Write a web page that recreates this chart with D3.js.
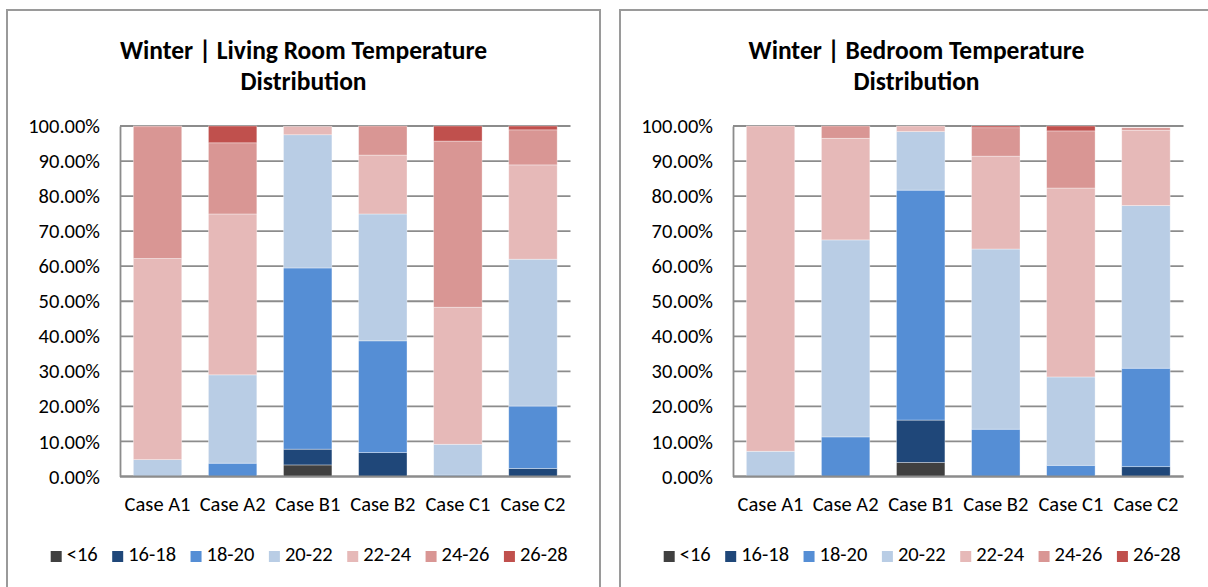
<!DOCTYPE html>
<html>
<head>
<meta charset="utf-8">
<script src="https://cdn.jsdelivr.net/npm/d3@7"></script>
<style>
  html, body { margin: 0; padding: 0; background: #fff; }
  svg { display: block; font-family: Calibri, Carlito, "Liberation Sans", Arial, sans-serif; }
</style>
</head>
<body>
<svg id="chart" width="1208" height="587"></svg>
<script>
// ---- Data ----
const cases = ["Case A1", "Case A2", "Case B1", "Case B2", "Case C1", "Case C2"];
const bands = ["<16", "16-18", "18-20", "20-22", "22-24", "24-26", "26-28"];
const bandColors = ["#404040", "#1f4779", "#558ed5", "#b9cde5", "#e6b9b8", "#d99694", "#c0504d"];
const yTicks = [0, 10, 20, 30, 40, 50, 60, 70, 80, 90, 100];

const livingTitle = ["Winter | Living Room Temperature", "Distribution"];
const bedroomTitle = ["Winter | Bedroom Temperature", "Distribution"];

// values in %, one array per temperature band, across the cases
const livingRoom = [
  [0, 0, 3.3, 0, 0, 0],            // <16
  [0, 0, 4.5, 6.8, 0, 2.3],        // 16-18
  [0, 3.8, 51.7, 31.9, 0.4, 17.8], // 18-20
  [4.8, 25.2, 38.0, 36.2, 8.8, 41.9], // 20-22
  [57.4, 45.9, 2.4, 16.8, 39.1, 26.9], // 22-24
  [37.6, 20.3, 0, 8.3, 47.4, 10.0], // 24-26
  [0.2, 4.8, 0, 0, 4.3, 1.1]       // 26-28
];
const bedroom = [
  [0, 0, 4.0, 0, 0, 0],
  [0, 0, 12.1, 0, 0, 2.8],
  [0, 11.3, 65.6, 13.5, 3.2, 28.1],
  [7.2, 56.2, 16.7, 51.4, 25.2, 46.4],
  [92.8, 29.0, 1.6, 26.5, 53.9, 21.5],
  [0, 3.5, 0, 8.1, 16.3, 0.7],
  [0, 0, 0, 0.5, 1.4, 0]
];

const svg = d3.select("#chart");

function drawPanel(ox, titleLines, values) {
  const g = svg.append("g").attr("transform", `translate(${ox},0)`);
  // panel border
  g.append("rect")
    .attr("x", 0).attr("y", 10).attr("width", 593).attr("height", 620)
    .attr("fill", "none").attr("stroke", "#9a9a9a").attr("stroke-width", 2);

  // title
  const t = g.append("text")
    .attr("text-anchor", "middle")
    .attr("font-weight", "bold")
    .attr("font-size", "25.5px")
    .attr("fill", "#000");
  titleLines.forEach((line, i) => {
    t.append("tspan").attr("x", 296.5).attr("y", 58.5 + i * 31).text(line);
  });

  const left = 113, right = 563.5, top = 126, bottom = 476.5;
  const x = d3.scaleBand().domain(cases).range([left, right]).paddingInner(0.355).paddingOuter(0.1775);
  const y = d3.scaleLinear().domain([0, 100]).range([bottom, top]);

  // gridlines
  g.append("g").selectAll("line").data(yTicks).join("line")
    .attr("x1", left).attr("x2", right)
    .attr("y1", d => y(d)).attr("y2", d => y(d))
    .attr("stroke", "#8c8c8c").attr("stroke-width", 1.8);

  // y axis
  const yAxis = g.append("g").attr("transform", `translate(${left},0)`)
    .call(d3.axisLeft(y).tickValues(yTicks).tickSize(0).tickPadding(20)
      .tickFormat(d => d3.format(".2f")(d) + "%"));
  yAxis.attr("font-family", null).attr("font-size", null);
  yAxis.select(".domain").attr("stroke", "#8c8c8c").attr("stroke-width", 1.8);
  yAxis.selectAll("text").attr("font-size", "20.5px").attr("fill", "#000");

  // stacked bars
  const rows = cases.map((c, i) => {
    const r = { case: c };
    bands.forEach((b, j) => r[b] = values[j][i]);
    return r;
  });
  const stack = d3.stack().keys(bands)(rows);
  g.append("g").selectAll("g").data(stack).join("g")
    .attr("fill", (d, i) => bandColors[i])
    .selectAll("rect").data(d => d.filter(s => s[1] - s[0] > 0)).join("rect")
    .attr("x", d => x(d.data.case))
    .attr("width", x.bandwidth())
    .attr("y", d => y(d[1]))
    .attr("height", d => y(d[0]) - y(d[1]))
    .attr("stroke", "rgba(255,255,255,0.5)").attr("stroke-width", 0.7);

  // bottom axis line
  g.append("line").attr("x1", left).attr("x2", right).attr("y1", bottom).attr("y2", bottom)
    .attr("stroke", "#8c8c8c").attr("stroke-width", 1.8);

  // x labels
  g.append("g").selectAll("text").data(cases).join("text")
    .attr("x", d => x(d) + x.bandwidth() / 2)
    .attr("y", 510.5)
    .attr("text-anchor", "middle")
    .attr("font-size", "20.5px")
    .attr("fill", "#000")
    .text(d => d);

  // legend
  const lg = g.append("g");
  let lx = 43.7;
  bands.forEach((b, i) => {
    lg.append("rect").attr("x", lx).attr("y", 551).attr("width", 11).attr("height", 11)
      .attr("fill", bandColors[i]);
    const tx = lg.append("text").attr("x", lx + 16).attr("y", 561)
      .attr("font-size", "20.5px").attr("fill", "#000").text(b);
    lx += 16 + tx.node().getComputedTextLength() + 14.5;
  });
}

drawPanel(7, livingTitle, livingRoom);
drawPanel(620, bedroomTitle, bedroom);
</script>
</body>
</html>
